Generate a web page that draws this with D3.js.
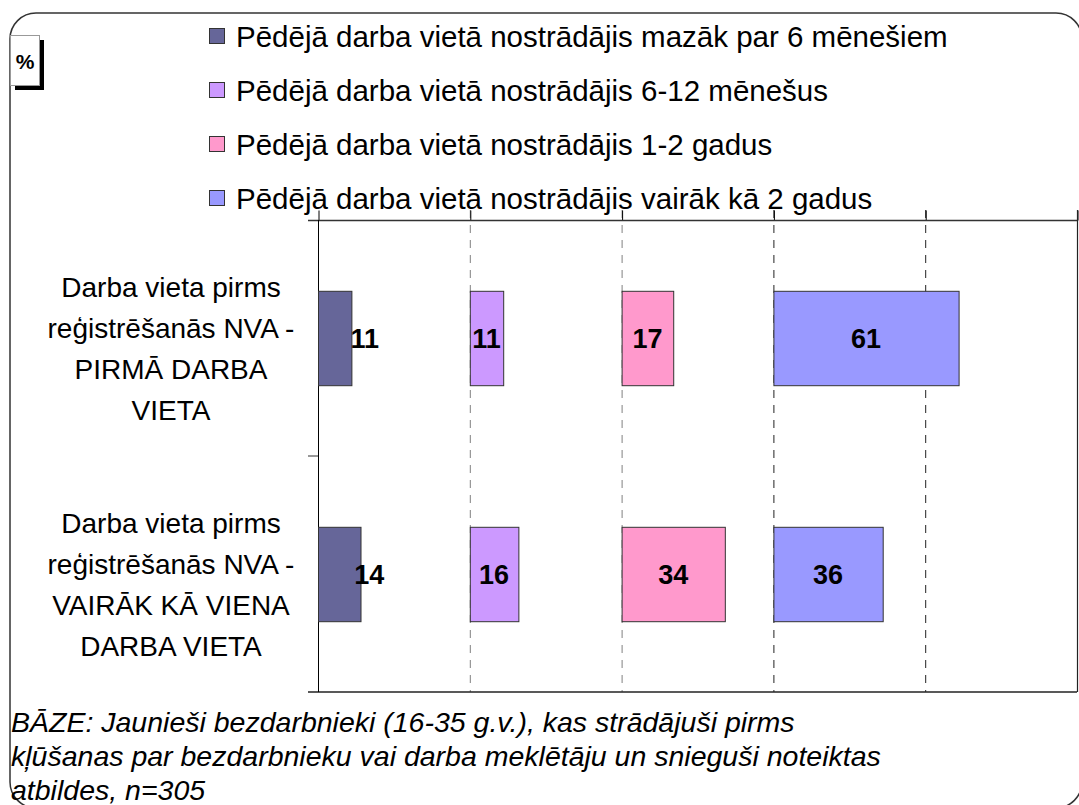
<!DOCTYPE html>
<html>
<head>
<meta charset="utf-8">
<script src="https://cdn.jsdelivr.net/npm/d3@7"></script>
<style>
  body { margin: 0; background: #fff; }
  svg { display: block; font-family: "Liberation Sans", Arial, sans-serif; }
</style>
</head>
<body>
<div id="chart"></div>
<script>
// categories (each label split into its lines)
const categories = ["first", "multi"];
const categoryLines = [
    ["Darba vieta pirms", "reģistrēšanās NVA -", "PIRMĀ DARBA", "VIETA"],
    ["Darba vieta pirms", "reģistrēšanās NVA -", "VAIRĀK KĀ VIENA", "DARBA VIETA"]
];
const seriesNames = [
    "Pēdējā darba vietā nostrādājis mazāk par 6 mēnešiem",
    "Pēdējā darba vietā nostrādājis 6-12 mēnešus",
    "Pēdējā darba vietā nostrādājis 1-2 gadus",
    "Pēdējā darba vietā nostrādājis vairāk kā 2 gadus"
];
const seriesColors = ["#666699", "#cc99ff", "#ff99cc", "#9999ff"];
// values[series][category]
const values = [
    [11, 14],
    [11, 16],
    [17, 34],
    [61, 36]
];
const panelSize = 50;      // each series gets its own 50% column
const gridTicks = [0, 50, 100, 150, 200, 250];
const footnoteLines = [
    "BĀZE: Jaunieši bezdarbnieki (16-35 g.v.), kas strādājuši pirms",
    "kļūšanas par bezdarbnieku vai darba meklētāju un snieguši noteiktas",
    "atbildes, n=305"
];

const W = 1079, H = 805;
const svg = d3.select("#chart").append("svg").attr("width", W).attr("height", H);

// outer rounded frame
svg.append("rect")
    .attr("x", 10).attr("y", 13).attr("width", 1072).attr("height", 795)
    .attr("rx", 26).attr("fill", "none").attr("stroke", "#333").attr("stroke-width", 1.5);

// "%" box with shadow
svg.append("rect").attr("x", 15).attr("y", 40).attr("width", 29).attr("height", 50).attr("fill", "#000");
svg.append("rect").attr("x", 10.5).attr("y", 35.5).attr("width", 29).attr("height", 50)
    .attr("fill", "#fff").attr("stroke", "#999").attr("stroke-width", 1);
svg.append("text").attr("x", 25).attr("y", 61).attr("text-anchor", "middle")
    .attr("dominant-baseline", "central").attr("font-weight", "bold").attr("font-size", 21).text("%");

// scales
const x = d3.scaleLinear().domain([0, 250]).range([318, 1077]);
const y = d3.scaleBand().domain(categories).range([220, 692]).paddingInner(0.6).paddingOuter(0.3);
const step = y.step();
const bandTop = c => y(c) - y.paddingOuter() * step;

// dashed gridlines
const grid = svg.append("g");
grid.selectAll("line").data(gridTicks.slice(1, 5)).join("line")
    .attr("x1", d => x(d) + 0.5).attr("x2", d => x(d) + 0.5)
    .attr("y1", 210).attr("y2", 692)
    .attr("stroke", (d, i) => i < 2 ? "#808080" : "#222")
    .attr("stroke-dasharray", "8,7").attr("stroke-width", 1);

// top value axis (ticks only, no labels)
const xAxis = d3.axisTop(x).tickValues(gridTicks).tickSize(10).tickFormat("");
const gx = svg.append("g").attr("transform", "translate(0,220.5)").call(xAxis);
gx.select(".domain").remove();
gx.selectAll("line").attr("stroke", "#000").attr("transform", "translate(0.5,0)");
svg.append("line").attr("x1", 308).attr("x2", 1077).attr("y1", 220.5).attr("y2", 220.5)
    .attr("stroke", "#333").attr("stroke-width", 1.5);

// bottom and right lines of plot
svg.append("line").attr("x1", 308).attr("x2", 1077).attr("y1", 692).attr("y2", 692)
    .attr("stroke", "#222").attr("stroke-width", 1.5);
svg.append("line").attr("x1", 1077.5).attr("x2", 1077.5).attr("y1", 210).attr("y2", 692)
    .attr("stroke", "#222").attr("stroke-width", 1.2);

// category axis
svg.append("line").attr("x1", 318.5).attr("x2", 318.5).attr("y1", 220).attr("y2", 692)
    .attr("stroke", "#000").attr("stroke-width", 1);
svg.append("g").selectAll("line").data([bandTop(categories[1])]).join("line")
    .attr("x1", 308).attr("x2", 318).attr("y1", d => d).attr("y2", d => d)
    .attr("stroke", "#333");

// category labels
const catG = svg.append("g").attr("font-size", 28).attr("text-anchor", "middle").attr("fill", "#000");
categories.forEach((c, ci) => {
    const mid = y(c) + y.bandwidth() / 2 + 11;
    const lines = categoryLines[ci];
    catG.selectAll(null).data(lines).join("text")
        .attr("x", 171)
        .attr("y", (d, i) => mid + (i - (lines.length - 1) / 2) * 41)
        .attr("dominant-baseline", "central")
        .text(d => d);
});

// bars
const barG = svg.append("g");
values.forEach((vals, si) => {
    const x0 = si * panelSize;
    barG.selectAll(null).data(vals).join("rect")
        .attr("x", x(x0) + 0.5)
        .attr("y", (d, ci) => y(categories[ci]) + 0.5)
        .attr("width", d => x(x0 + d) - x(x0))
        .attr("height", y.bandwidth())
        .attr("fill", seriesColors[si])
        .attr("stroke", "#333").attr("stroke-width", 1);
    barG.selectAll(null).data(vals).join("text")
        .attr("x", d => (x(x0) + x(x0 + d)) / 2 + (si === 0 ? 30 : 0))
        .attr("y", (d, ci) => y(categories[ci]) + y.bandwidth() / 2 + 1)
        .attr("dominant-baseline", "central")
        .attr("text-anchor", "middle")
        .attr("font-weight", "bold").attr("font-size", 27)
        .text(d => d);
});

// legend
const leg = svg.append("g");
seriesNames.forEach((name, i) => {
    const cy = 36 + i * 54;
    leg.append("rect").attr("x", 209.5).attr("y", cy - 7.5).attr("width", 15).attr("height", 15)
        .attr("fill", seriesColors[i]).attr("stroke", "#333").attr("stroke-width", 1);
    leg.append("text").attr("x", 236).attr("y", cy).attr("dominant-baseline", "central")
        .attr("font-size", 29.5).text(name);
});

// footnote
svg.append("g").selectAll("text").data(footnoteLines).join("text")
    .attr("x", 11).attr("y", (d, i) => 732 + i * 34)
    .attr("font-style", "italic").attr("font-size", 28.5)
    .text(d => d);
</script>
</body>
</html>
